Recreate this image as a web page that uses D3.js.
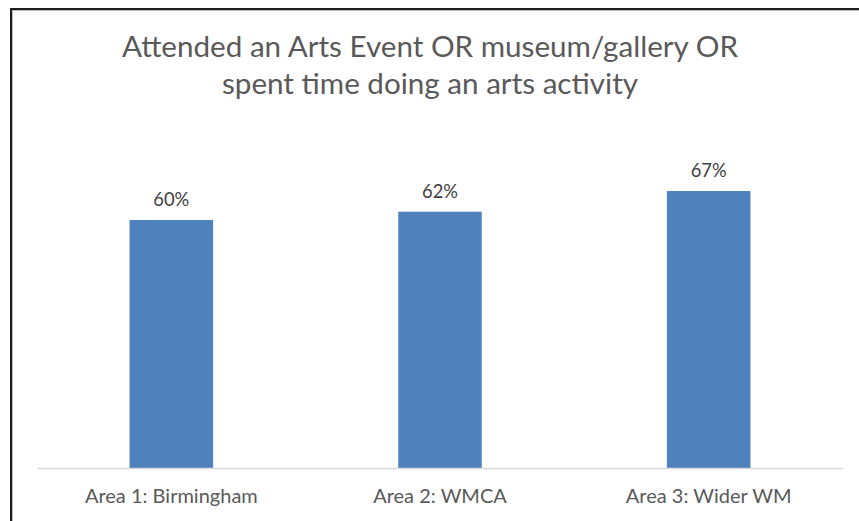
<!DOCTYPE html>
<html>
<head>
<meta charset="utf-8">
<script src="https://cdn.jsdelivr.net/npm/d3@7"></script>
<style>
  html, body { margin: 0; padding: 0; background: #fff; }
  svg { display: block; }
  text { font-family: Lato, "Open Sans", sans-serif; fill: #595959; }
</style>
</head>
<body>
<svg id="chart" width="859" height="521"></svg>
<script>
// Chart data
const categories = ["Area 1: Birmingham", "Area 2: WMCA", "Area 3: Wider WM"];
const values = [0.60, 0.62, 0.67];
const titleLines = ["Attended an Arts Event OR museum/gallery OR", "spent time doing an arts activity"];

const W = 859, H = 521;
const svg = d3.select("#chart");

// Outer frame (runs past the right and bottom edges)
svg.append("rect")
  .attr("x", 11).attr("y", 9)
  .attr("width", W + 20).attr("height", H + 20)
  .attr("fill", "#fff")
  .attr("stroke", "#1e1e1e")
  .attr("stroke-width", 2);
svg.append("rect")
  .attr("x", 12.5).attr("y", 10.5)
  .attr("width", W + 20).attr("height", H + 20)
  .attr("fill", "none")
  .attr("stroke", "#bdbdbd")
  .attr("stroke-width", 1);

// Plot geometry
const plotLeft = 37, plotRight = 843, baseY = 468, topY = 137.3;

const x = d3.scaleBand().domain(categories).range([plotLeft, plotRight]).padding(0);
const y = d3.scaleLinear().domain([0, 0.8]).range([baseY, topY]);
const barW = x.bandwidth() * 0.311;

// Helper: set a text's font size so it spans a target width
function fitWidth(sel, targetW) {
  sel.each(function () {
    const node = this;
    const fs = parseFloat(d3.select(node).style("font-size"));
    const len = node.getComputedTextLength();
    if (len > 0) d3.select(node).style("font-size", (fs * targetW / len) + "px");
  });
}

// Title
const title = svg.append("g");
title.selectAll("text")
  .data(titleLines)
  .join("text")
  .attr("x", 430)
  .attr("y", (d, i) => 57 + i * 37)
  .attr("text-anchor", "middle")
  .style("font-size", "26px")
  .text(d => d);
fitWidth(title.select("text"), 616);
const tfs = title.select("text").style("font-size");
title.selectAll("text").style("font-size", tfs);

// Bars
svg.append("g").selectAll("rect")
  .data(values)
  .join("rect")
  .attr("x", (d, i) => x(categories[i]) + x.bandwidth() / 2 - barW / 2)
  .attr("y", d => y(d))
  .attr("width", barW)
  .attr("height", d => baseY - y(d))
  .attr("fill", "#4F81BD");

// Category axis line
const axis = svg.append("g").attr("transform", `translate(0,${baseY})`)
  .call(d3.axisBottom(x).tickSize(0).tickPadding(0));
axis.select(".domain").attr("stroke", "#d9d9d9").attr("stroke-width", 1.3);
axis.selectAll(".tick text")
  .attr("dy", 0)
  .attr("y", 35)
  .style("font-size", "16px")
  .attr("font-family", null)
  .style("fill", "#595959");
fitWidth(axis.selectAll(".tick text").filter((d, i) => i === 0), 173);
const afs = axis.select(".tick text").style("font-size");
axis.selectAll(".tick text").style("font-size", afs);

// Value labels
const fmt = d3.format(".0%");
const labels = svg.append("g").selectAll("text")
  .data(values)
  .join("text")
  .attr("x", (d, i) => x(categories[i]) + x.bandwidth() / 2)
  .attr("y", d => y(d) - 14)
  .attr("text-anchor", "middle")
  .style("font-size", "16px")
  .style("fill", "#404040")
  .text(d => fmt(d));
fitWidth(labels.filter((d, i) => i === 0), 36);
const lfs = labels.filter((d, i) => i === 0).style("font-size");
labels.style("font-size", lfs);
</script>
</body>
</html>
